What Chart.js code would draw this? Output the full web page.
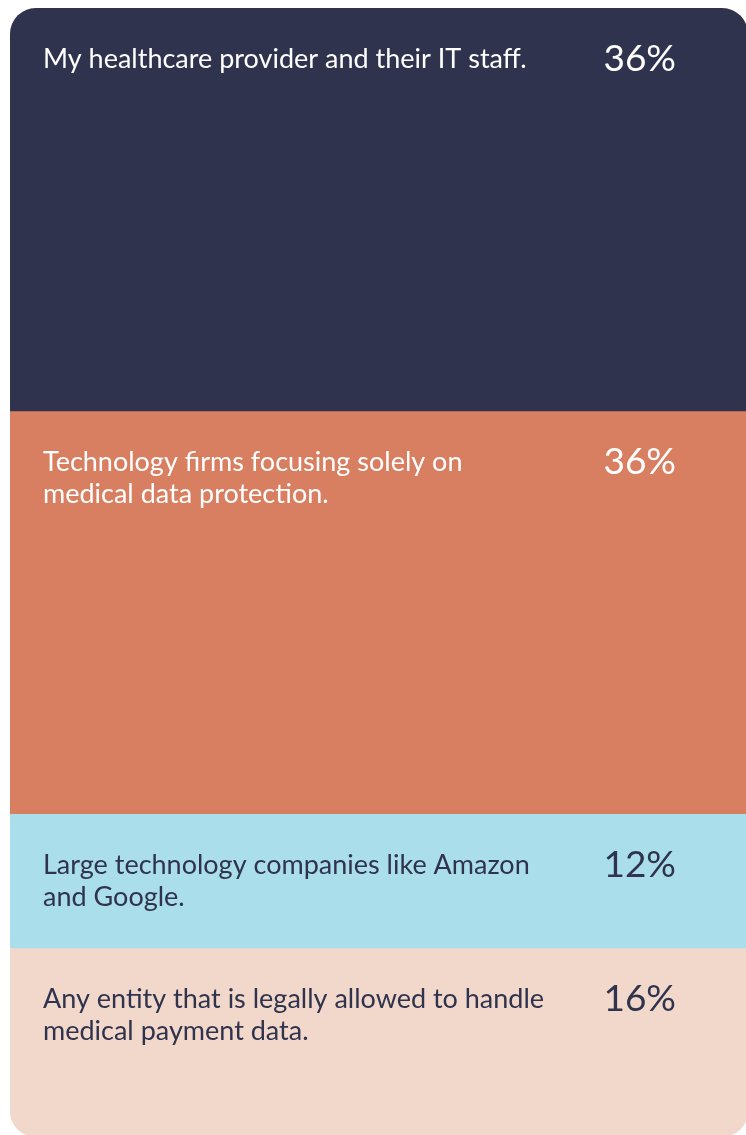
<!DOCTYPE html>
<html>
<head>
<meta charset="utf-8">
<script src="https://cdn.jsdelivr.net/npm/chart.js@4"></script>
<style>
  html, body { margin: 0; padding: 0; background: #ffffff; }
  #card {
    position: absolute; left: 10px; top: 8px;
    width: 738px; height: 1129px;
    border-radius: 26px; overflow: hidden;
    background: #f2d8ca;
  }
</style>
</head>
<body>
<div id="card"><canvas id="myChart" width="738" height="1129"></canvas></div>
<script>
// answers, top to bottom
const answers = [
  ['My healthcare provider and their IT staff.'],
  ['Technology firms focusing solely on', 'medical data protection.'],
  ['Large technology companies like Amazon', 'and Google.'],
  ['Any entity that is legally allowed to handle', 'medical payment data.']
]
const shares = [36, 36, 12, 16]
const fills = ['#2f334d', '#d97f61', '#aadeea', '#f2d8ca']
const inks = ['#ffffff', '#ffffff', '#2f334d', '#2f334d']

// writes the answer and its share inside each block
const blockText = {
  id: 'blockText',
  afterDatasetsDraw(chart) {
    const ctx = chart.ctx
    ctx.save()
    ctx.textBaseline = 'alphabetic'
    chart.data.datasets.forEach((ds, i) => {
      const bar = chart.getDatasetMeta(i).data[0]
      const top = Math.min(bar.y, bar.base)
      ctx.fillStyle = inks[i]
      ctx.font = '27px Lato'
      ctx.textAlign = 'left'
      answers[i].forEach((line, j) => {
        ctx.fillText(line, 33, top + 60 + j * 32)
      })
      ctx.font = '37px Lato'
      ctx.textAlign = 'right'
      ctx.fillText(ds.data[0] + '%', 666, top + 63)
    })
    ctx.restore()
  }
}

const ctx = document.getElementById('myChart')
const chart = new Chart(ctx, {
  type: 'bar',
  data: {
    labels: [''],
    datasets: shares.map((v, i) => ({
      label: answers[i].join(' '),
      data: [v],
      backgroundColor: fills[i],
      borderWidth: 0,
      categoryPercentage: 1,
      barPercentage: 1
    }))
  },
  options: {
    responsive: false,
    animation: false,
    layout: { padding: { top: 0, left: 0, right: 0, bottom: 10 } },
    plugins: { legend: { display: false }, tooltip: { enabled: false } },
    scales: {
      x: { stacked: true, display: false },
      y: { stacked: true, display: false, reverse: true, min: 0, max: 100 }
    }
  },
  plugins: [blockText]
})
</script>
</body>
</html>
